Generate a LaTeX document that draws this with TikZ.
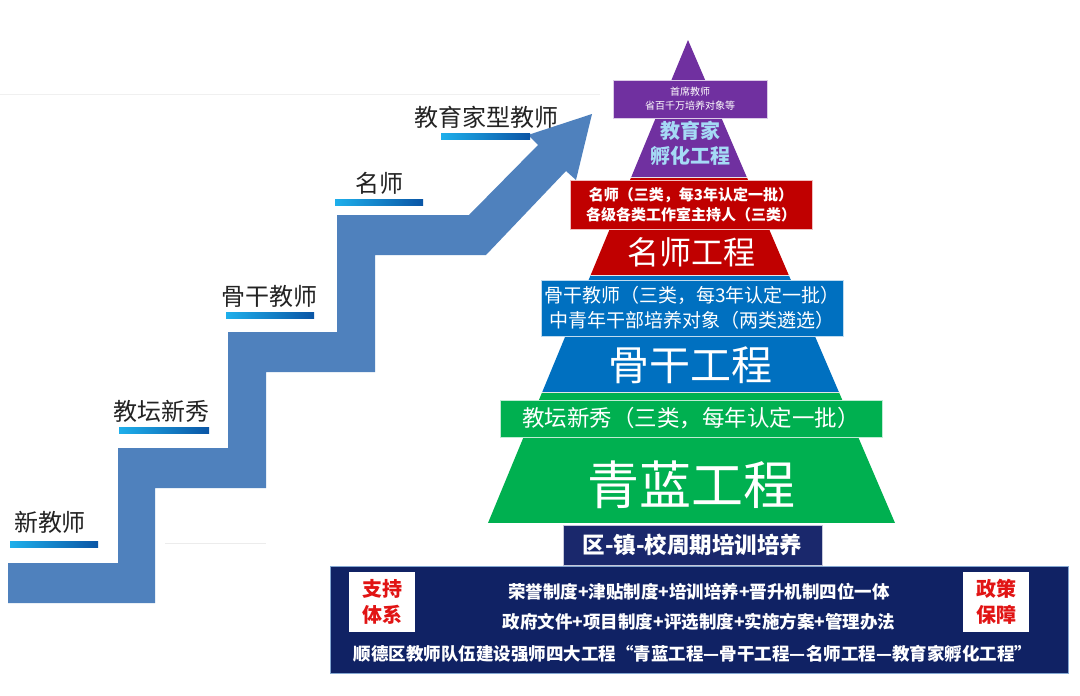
\documentclass[tikz,border=0pt]{standalone}
\usepackage{fontspec}
\setmainfont{Noto Sans CJK SC}
\usepackage{xcolor}
\definecolor{stairblue}{RGB}{79,129,189}
\definecolor{pyrpurple}{RGB}{112,48,160}
\definecolor{pyrred}{RGB}{192,0,0}
\definecolor{pyrblue}{RGB}{0,112,192}
\definecolor{pyrgreen}{RGB}{0,176,80}
\definecolor{pyrnavy}{RGB}{26,40,108}
\definecolor{basenavy}{RGB}{16,34,100}
\definecolor{lightcyan}{RGB}{165,218,245}
\definecolor{linecyan}{RGB}{30,175,235}
\definecolor{linedark}{RGB}{10,85,165}
\definecolor{labelgray}{RGB}{35,35,35}
\definecolor{stampred}{RGB}{225,20,20}

\tikzset{
  steplabel/.style={text=labelgray, inner sep=0pt, font=\fontsize{24}{28}\selectfont},
  underline/.style={left color=linecyan, right color=linedark},
  layerbox/.style={draw=white!75!#1, line width=1pt, fill=#1, text=white, inner sep=0pt, align=center},
  layertitle/.style={text=white, inner sep=0pt},
  basetext/.style={text=white, inner sep=0pt, font=\bfseries\fontsize{17.5}{20}\selectfont},
  stampbox/.style={fill=white, text=stampred, inner sep=0pt, minimum width=66pt, minimum height=60pt,
    align=center, font=\bfseries\fontsize{20}{26}\selectfont}
}

\begin{document}
\begin{tikzpicture}[x=1pt,y=-1pt]
    \useasboundingbox (0,0) rectangle (1080,696);
    \fill[white] (0,0) rectangle (1080,696);
    \draw[gray!12] (0,94) -- (600,94);
    \draw[gray!15] (165,543) -- (266,543);

    % Staircase arrow
    \fill[stairblue] (8,603) -- (8,563) -- (118,563) -- (118,448) -- (228,448) -- (228,332)
        -- (337,332) -- (337,215) -- (469,215) -- (538,145) -- (528,135) -- (592,114)
        -- (576,180) -- (566,171) -- (486,255) -- (375,255) -- (375,372) -- (266,372)
        -- (266,488) -- (155,488) -- (155,603) -- cycle;

    % Step labels
    \node[steplabel] (lblNew) at (50,522) {新教师};
    \node[steplabel] (lblStar) at (161,411) {教坛新秀};
    \node[steplabel] (lblCore) at (269,296) {骨干教师};
    \node[steplabel] (lblFamous) at (379,183) {名师};
    \node[steplabel] (lblEdu) at (486,117) {教育家型教师};
    \fill[underline] (10,541) rectangle (98,547);
    \fill[underline] (119,427) rectangle (209,433);
    \fill[underline] (226,312) rectangle (314,318);
    \fill[underline] (335,199) rectangle (423,205);
    \fill[underline] (441,133) rectangle (530,139);

    % Pyramid layers
    \begin{scope}
        \clip (688,40) -- (895,523) -- (488,523) -- cycle;
        \fill[pyrpurple] (480,30) rectangle (900,177);
        \fill[pyrred] (480,177) rectangle (900,275);
        \fill[pyrblue] (480,275) rectangle (900,392);
        \fill[pyrgreen] (480,392) rectangle (900,523);
        \foreach \y in {177,275,392} {
            \draw[white!80!gray, line width=1pt] (480,\y) -- (900,\y);
        }
    \end{scope}

    % Purple level
    \node[layerbox=pyrpurple, minimum width=154pt, minimum height=38pt,
        font=\fontsize{10}{14}\selectfont] (topBox) at (690,99) {首席教师\\省百千万培养对象等};
    \node[inner sep=0pt, text=lightcyan, align=center,
        font=\bfseries\fontsize{20}{25}\selectfont] (eduTitle) at (690,143) {教育家\\孵化工程};

    % Red level
    \node[layerbox=pyrred, minimum width=242pt, minimum height=49pt,
        font=\bfseries\fontsize{15}{20}\selectfont] (famousBox) at (691,205)
        {名师（三类，每3年认定一批）\\各级各类工作室主持人（三类）};
    \node[layertitle, font=\fontsize{32}{36}\selectfont] (famousTitle) at (691,252) {名师工程};

    % Blue level
    \node[layerbox=pyrblue, minimum width=302pt, minimum height=56pt,
        font=\fontsize{19}{25}\selectfont] (coreBox) at (692,308)
        {骨干教师（三类，每3年认定一批）\\中青年干部培养对象（两类遴选）};
    \node[layertitle, font=\fontsize{41}{45}\selectfont] (coreTitle) at (690,365) {骨干工程};

    % Green level
    \node[layerbox=pyrgreen, minimum width=382pt, minimum height=37pt,
        font=\fontsize{22.5}{25}\selectfont] (starBox) at (691,418.5)
        {教坛新秀（三类，每年认定一批）};
    \node[layertitle, font=\fontsize{52}{56}\selectfont] (blueTitle) at (691,485) {青蓝工程};

    % Base
    \node[layerbox=pyrnavy, minimum width=259pt, minimum height=40pt,
        font=\bfseries\fontsize{22.5}{25}\selectfont] (cycleBox) at (692.5,545) {区-镇-校周期培训培养};
    \draw[fill=basenavy, draw=stairblue!70!white, line width=1pt] (330,566) rectangle (1068,673);
    \node[stampbox] (supportBox) at (382,602) {支持\\体系};
    \node[stampbox] (policyBox) at (996,602) {政策\\保障};
    \node[basetext] (baseOne) at (699,592) {荣誉制度+津贴制度+培训培养+晋升机制四位一体};
    \node[basetext] (baseTwo) at (699,622) {政府文件+项目制度+评选制度+实施方案+管理办法};
    \node[basetext] (baseThree) at (693,654) {顺德区教师队伍建设强师四大工程“青蓝工程—骨干工程—名师工程—教育家孵化工程”};
\end{tikzpicture}
\end{document}
